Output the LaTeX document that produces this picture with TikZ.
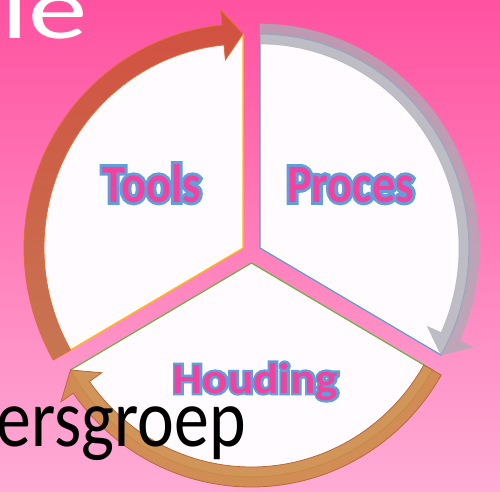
\documentclass[tikz,border=0pt]{standalone}
\usepackage{fontspec}
\usetikzlibrary{positioning}

\setmainfont{Carlito}
\newfontfamily\cyclefont[FakeStretch=0.86]{Carlito}
\newfontfamily\cycleedgefont[FakeStretch=0.86, FakeBold=11]{Carlito}
\newfontfamily\houdingfont[FakeStretch=1.1]{Carlito}
\newfontfamily\houdingedgefont[FakeStretch=1.1, FakeBold=11]{Carlito}
\newfontfamily\slidefont[FakeStretch=0.85]{Carlito}
\newfontfamily\titlefont[FakeStretch=1.35]{Carlito}

\definecolor{bgtop}{RGB}{255,82,160}
\definecolor{bgbottom}{RGB}{255,172,214}
\definecolor{segwhite}{RGB}{255,251,254}
\definecolor{toolsedge}{RGB}{255,192,0}
\definecolor{procesedge}{RGB}{91,155,213}
\definecolor{houdingedge}{RGB}{112,173,71}
\definecolor{toolstop}{RGB}{210,80,64}
\definecolor{toolsbot}{RGB}{199,118,82}
\definecolor{toolsline}{RGB}{222,110,50}
\definecolor{procesfill}{RGB}{172,172,182}
\definecolor{houdingfill}{RGB}{206,138,72}
\definecolor{houdingline}{RGB}{184,104,58}
\definecolor{labelpink}{RGB}{240,66,158}
\definecolor{labelblue}{RGB}{98,158,218}

% outlined label: blue emboldened copy under the pink text
\newcommand{\edgedtext}[3]{\makebox[0pt][l]{#1\textcolor{labelblue}{#3}}#2#3}

\tikzset{
    sector/.style={fill=segwhite, line width=1.2pt, line join=miter},
    toolsarrow/.style={top color=toolstop, bottom color=toolsbot, draw=toolsline, line width=0.8pt},
    procesarrow/.style={fill=procesfill, fill opacity=0.78, draw=procesfill, draw opacity=0.6, line width=0.6pt},
    houdingarrow/.style={fill=houdingfill, fill opacity=0.9, draw=houdingline, line width=0.8pt},
    cyclelabel/.style={anchor=base, inner sep=0, text=labelpink}
}

\begin{document}
\begin{tikzpicture}[x=1pt, y=1pt]

    % Background
    \useasboundingbox (-251.5,-238) rectangle (248.5,253);
    \clip (-251.5,-238) rectangle (248.5,253);
    \fill[top color=bgtop, bottom color=bgbottom] (-251.5,-238) rectangle (248.5,253);

    % Title rest
    \node[anchor=base west, inner sep=0, text=white, font=\titlefont\fontsize{88}{88}\selectfont] (title) at (-250.5,215) {le};

    % Sectors
    \foreach \cx/\cy/\a/\edge in {-8.5/5/90/toolsedge, 8.5/5/-30/procesedge, 0/-10/210/houdingedge} {
        \pgfmathsetmacro\t{\a+120}
        \begin{scope}[shift={(\cx,\cy)}]
            \filldraw[sector, draw=\edge] (0,0) -- (\t:209 and 214)
                arc[start angle=\t, end angle=\a, x radius=209, y radius=214] -- cycle;
        \end{scope}
    }

    % Arrows
    \foreach \cx/\cy/\a/\st in {-8.5/5/90/toolsarrow, 8.5/5/-30/procesarrow, 0/-10/210/houdingarrow} {
        \pgfmathsetmacro\t{\a+120}
        \pgfmathsetmacro\hb{\a+5.5}
        \begin{scope}[shift={(\cx,\cy)}]
            \path[\st] (\t:219 and 224)
                arc[start angle=\t, end angle=\hb, x radius=219, y radius=224]
                -- (\hb:234 and 239) -- (\a:209 and 214) -- (\hb:184 and 189) -- (\hb:199 and 204)
                arc[start angle=\hb, end angle=\t, x radius=199, y radius=204] -- cycle;
        \end{scope}
    }

    % Labels
    \node[cyclelabel] (tools) at (-100,51)
        {\edgedtext{\cycleedgefont\bfseries\fontsize{54}{54}\selectfont}{\cyclefont\bfseries\fontsize{54}{54}\selectfont}{Tools}};
    \node[cyclelabel] (proces) at (99,51)
        {\edgedtext{\cycleedgefont\bfseries\fontsize{54}{54}\selectfont}{\cyclefont\bfseries\fontsize{54}{54}\selectfont}{Proces}};
    \node[cyclelabel] (houding) at (4,-140)
        {\edgedtext{\houdingedgefont\bfseries\fontsize{43}{43}\selectfont}{\houdingfont\bfseries\fontsize{43}{43}\selectfont}{Houding}};

    % Subtitle rest
    \node[anchor=base east, inner sep=0, font=\slidefont\fontsize{82}{82}\selectfont] (groep) at (-5.5,-193) {ersgroep};

\end{tikzpicture}
\end{document}
